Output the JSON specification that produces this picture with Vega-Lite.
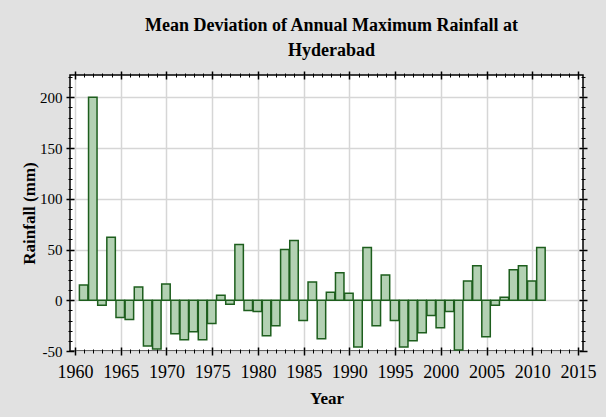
{
  "$schema": "https://vega.github.io/schema/vega-lite/v6.json",
  "autosize": {"type": "none"},
  "padding": {"left": 70, "top": 75, "right": 23, "bottom": 66},
  "width": 513,
  "height": 276,
  "background": "#e1e1e1",
  "config": {
    "font": "Liberation Serif",
    "view": {"stroke": "black", "strokeWidth": 1.5, "fill": "white"},
    "axis": {"domain": false, "labelFont": "Liberation Serif", "titleFont": "Liberation Serif", "labelColor": "black", "titleColor": "black", "tickColor": "black"}
  },
  "title": {
    "text": ["Mean Deviation of Annual Maximum Rainfall at", "Hyderabad"],
    "font": "Liberation Serif",
    "fontSize": 18,
    "fontWeight": "bold",
    "lineHeight": 25,
    "anchor": "middle",
    "frame": "group",
    "dx": 5,
    "offset": 10,
    "color": "black"
  },
  "data": {
    "values": [
      {"year": 1961, "dev": 15}, {"year": 1962, "dev": 200}, {"year": 1963, "dev": -5},
      {"year": 1964, "dev": 62}, {"year": 1965, "dev": -17}, {"year": 1966, "dev": -19},
      {"year": 1967, "dev": 13}, {"year": 1968, "dev": -45}, {"year": 1969, "dev": -48},
      {"year": 1970, "dev": 16}, {"year": 1971, "dev": -33}, {"year": 1972, "dev": -39},
      {"year": 1973, "dev": -31}, {"year": 1974, "dev": -39}, {"year": 1975, "dev": -23},
      {"year": 1976, "dev": 5}, {"year": 1977, "dev": -4}, {"year": 1978, "dev": 55},
      {"year": 1979, "dev": -10}, {"year": 1980, "dev": -11}, {"year": 1981, "dev": -35},
      {"year": 1982, "dev": -25}, {"year": 1983, "dev": 50}, {"year": 1984, "dev": 59},
      {"year": 1985, "dev": -20}, {"year": 1986, "dev": 18}, {"year": 1987, "dev": -38},
      {"year": 1988, "dev": 8}, {"year": 1989, "dev": 27}, {"year": 1990, "dev": 7},
      {"year": 1991, "dev": -46}, {"year": 1992, "dev": 52}, {"year": 1993, "dev": -25},
      {"year": 1994, "dev": 25}, {"year": 1995, "dev": -20}, {"year": 1996, "dev": -46},
      {"year": 1997, "dev": -40}, {"year": 1998, "dev": -32}, {"year": 1999, "dev": -15},
      {"year": 2000, "dev": -27}, {"year": 2001, "dev": -11}, {"year": 2002, "dev": -49},
      {"year": 2003, "dev": 19}, {"year": 2004, "dev": 34}, {"year": 2005, "dev": -36},
      {"year": 2006, "dev": -5}, {"year": 2007, "dev": 3}, {"year": 2008, "dev": 30},
      {"year": 2009, "dev": 34}, {"year": 2010, "dev": 19}, {"year": 2011, "dev": 52}
    ]
  },
  "resolve": {"axis": {"x": "independent", "y": "independent"}},
  "layer": [
    {
      "mark": {"type": "bar", "width": 8.5, "fill": "#b3d1b3", "stroke": "#1d5e1d", "strokeWidth": 1.5, "xOffset": -0.5},
      "encoding": {
        "x": {"field": "year", "type": "quantitative",
          "scale": {"domain": [1960, 2015], "nice": false, "zero": false},
          "axis": {"orient": "bottom", "values": [1960, 1965, 1970, 1975, 1980, 1985, 1990, 1995, 2000, 2005, 2010, 2015],
            "labelExpr": "'' + datum.value", "ticks": false, "tickSize": 0, "labelPadding": 12, "labelFontSize": 18, "labelFlush": false,
            "grid": true, "gridColor": "#d6d6d6", "gridWidth": 1.5,
            "title": "Year", "titleFontSize": 17, "titleFontWeight": "bold", "titlePadding": 9}},
        "y": {"field": "dev", "type": "quantitative",
          "scale": {"domain": [-50, 222], "nice": false},
          "axis": {"orient": "left", "values": [-50, 0, 50, 100, 150, 200],
            "labelExpr": "'' + datum.value", "ticks": false, "tickSize": 0, "labelPadding": 8, "labelFontSize": 15, "labelFlush": false,
            "grid": true, "gridColor": "#d6d6d6", "gridWidth": 1.5,
            "title": "Rainfall (mm)", "titleFontSize": 17, "titleFontWeight": "bold", "titlePadding": 1}}
      }
    },
    {
      "mark": {"type": "point", "opacity": 0},
      "encoding": {
        "x": {"field": "year", "type": "quantitative",
          "axis": {"orient": "bottom", "values": [1960, 1965, 1970, 1975, 1980, 1985, 1990, 1995, 2000, 2005, 2010, 2015],
            "labels": false, "grid": false, "tickSize": 8, "tickWidth": 1.5, "offset": -4, "title": null}},
        "y": {"field": "dev", "type": "quantitative",
          "axis": {"orient": "left", "values": [-50, 0, 50, 100, 150, 200],
            "labels": false, "grid": false, "tickSize": 8, "tickWidth": 1.5, "offset": -4, "title": null}}
      }
    },
    {
      "mark": {"type": "point", "opacity": 0},
      "encoding": {
        "x": {"field": "year", "type": "quantitative",
          "axis": {"orient": "bottom", "values": [1960,1961,1962,1963,1964,1965,1966,1967,1968,1969,1970,1971,1972,1973,1974,1975,1976,1977,1978,1979,1980,1981,1982,1983,1984,1985,1986,1987,1988,1989,1990,1991,1992,1993,1994,1995,1996,1997,1998,1999,2000,2001,2002,2003,2004,2005,2006,2007,2008,2009,2010,2011,2012,2013,2014,2015],
            "labels": false, "grid": false, "tickSize": 4, "tickWidth": 1, "offset": -2, "title": null}},
        "y": {"field": "dev", "type": "quantitative",
          "axis": {"orient": "left", "values": [-50,-40,-30,-20,-10,0,10,20,30,40,50,60,70,80,90,100,110,120,130,140,150,160,170,180,190,200,210,220],
            "labels": false, "grid": false, "tickSize": 4, "tickWidth": 1, "offset": -2, "title": null}}
      }
    },
    {
      "mark": {"type": "point", "opacity": 0},
      "encoding": {
        "x": {"field": "year", "type": "quantitative",
          "axis": {"orient": "top", "values": [1960, 1965, 1970, 1975, 1980, 1985, 1990, 1995, 2000, 2005, 2010, 2015],
            "labels": false, "grid": false, "tickSize": 8, "tickWidth": 1.5, "offset": -4, "title": null}},
        "y": {"field": "dev", "type": "quantitative",
          "axis": {"orient": "right", "values": [-50, 0, 50, 100, 150, 200],
            "labels": false, "grid": false, "tickSize": 8, "tickWidth": 1.5, "offset": -4, "title": null}}
      }
    },
    {
      "mark": {"type": "point", "opacity": 0},
      "encoding": {
        "x": {"field": "year", "type": "quantitative",
          "axis": {"orient": "top", "values": [1960,1961,1962,1963,1964,1965,1966,1967,1968,1969,1970,1971,1972,1973,1974,1975,1976,1977,1978,1979,1980,1981,1982,1983,1984,1985,1986,1987,1988,1989,1990,1991,1992,1993,1994,1995,1996,1997,1998,1999,2000,2001,2002,2003,2004,2005,2006,2007,2008,2009,2010,2011,2012,2013,2014,2015],
            "labels": false, "grid": false, "tickSize": 4, "tickWidth": 1, "offset": -2, "title": null}},
        "y": {"field": "dev", "type": "quantitative",
          "axis": {"orient": "right", "values": [-50,-40,-30,-20,-10,0,10,20,30,40,50,60,70,80,90,100,110,120,130,140,150,160,170,180,190,200,210,220],
            "labels": false, "grid": false, "tickSize": 4, "tickWidth": 1, "offset": -2, "title": null}}
      }
    }
  ]
}
